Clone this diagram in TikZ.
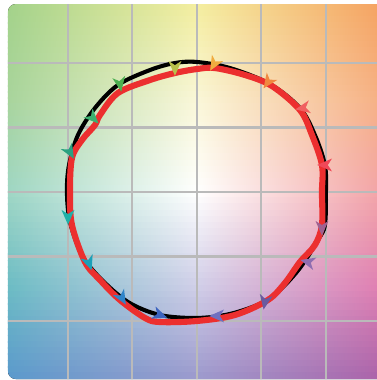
\documentclass[tikz,border=0pt]{standalone}
\usepackage{tikz}

% Colores del fondo (izquierda, centro, derecha; de arriba a abajo)
\definecolor{bgL0}{HTML}{A3D28A}
\definecolor{bgL1}{HTML}{A8D49C}
\definecolor{bgL2}{HTML}{9ED6C4}
\definecolor{bgL3}{HTML}{6CBCC4}
\definecolor{bgL4}{HTML}{5A98CC}
\definecolor{bgM0}{HTML}{F4EEA0}
\definecolor{bgM1}{HTML}{FAF7D8}
\definecolor{bgM2}{HTML}{FFFFFF}
\definecolor{bgM3}{HTML}{D0CEE8}
\definecolor{bgM4}{HTML}{9A98CC}
\definecolor{bgR0}{HTML}{F5A060}
\definecolor{bgR1}{HTML}{F6AE82}
\definecolor{bgR2}{HTML}{F2A0A4}
\definecolor{bgR3}{HTML}{E07CB0}
\definecolor{bgR4}{HTML}{AA60A8}
\definecolor{fitred}{HTML}{EC2F2F}

\begin{document}
\begin{tikzpicture}[
  gridline/.style={draw=black!27, line width=0.9pt},
  pathblack/.style={draw=black, line width=1.8pt, line join=round},
  pathred/.style={draw=fitred, line width=2.7pt, line join=round},
  tipmark/.pic={\fill (0.12,0) -- (-0.11,0.1) -- (-0.045,0) -- (-0.11,-0.1) -- cycle;}
]
  \useasboundingbox (-3.054,-2.915) rectangle (2.791,2.977);

  % Fondo a*b* y rejilla
  \begin{scope}
    \clip[rounded corners=0.12cm] (-2.93,-2.9) rectangle (3.3,2.915);
    \foreach \sg [evaluate=\sg as \nxt using int(\sg+1)] in {0,...,3}{
      \foreach \k [evaluate=\k as \pc using int(100-\k*100/15)] in {0,...,14}{
        \colorlet{bgl}{bgL\sg!\pc!bgL\nxt}
        \colorlet{bgm}{bgM\sg!\pc!bgM\nxt}
        \colorlet{bgr}{bgR\sg!\pc!bgR\nxt}
        \fill[left color=bgl, right color=bgr, middle color=bgm]
          (-2.93,{2.915-(\sg*15+\k)*0.0969}) rectangle (2.93,{2.915-(\sg*15+\k+1)*0.0969-0.012});
      }
    }
    \foreach \g in {-2,...,2}{
      \draw[gridline] (\g,-3) -- (\g,3);
      \draw[gridline] (-3,\g) -- (3,\g);
    }
  \end{scope}

  % Curva de referencia
  \draw[pathblack] plot[smooth cycle, tension=0.55] coordinates {
    (0,2.016) (0.512,1.922) (1.132,1.674) (1.597,1.302) (1.829,0.884)
    (1.984,0.419) (2.0,0) (1.984,-0.512) (1.876,-0.744) (1.597,-1.178)
    (1.287,-1.519) (1.008,-1.721) (0.512,-1.891) (0,-1.953) (-0.574,-1.907)
    (-1.070,-1.705) (-1.504,-1.333) (-1.783,-0.977) (-1.969,-0.465) (-2.016,0)
    (-1.984,0.419) (-1.845,0.884) (-1.581,1.302) (-1.225,1.659) (-0.729,1.891)
    (-0.341,2.0)};

  % Curva ajustada
  \draw[pathred] plot[smooth cycle, tension=0.55] coordinates {
    (0,1.907) (0.279,1.922) (0.744,1.814) (1.163,1.643) (1.597,1.271)
    (1.783,0.884) (1.938,0.419) (1.938,0) (1.938,-0.512) (1.829,-0.822)
    (1.597,-1.085) (1.364,-1.411) (1.101,-1.674) (0.589,-1.907) (0,-2.0)
    (-0.574,-2.016) (-0.806,-1.953) (-1.194,-1.674) (-1.504,-1.364) (-1.736,-1.085)
    (-1.938,-0.512) (-1.969,0) (-1.938,0.527) (-1.783,0.806) (-1.581,1.039)
    (-1.504,1.194) (-1.225,1.535) (-0.729,1.736) (-0.341,1.845)};

  % Flechas de color
  \foreach \x/\y/\a/\c in {
      -0.341/1.922/-90/B8C04A, 0.264/1.984/-120/F0AC40, 1.101/1.705/-125/F08840,
      1.643/1.302/-170/F06060, 1.984/0.419/180/F04858, 1.938/-0.558/-90/A06090,
      1.721/-1.085/165/8F6EB0, 1.054/-1.705/-100/6A5AA0, 0.310/-1.922/180/7070C0,
      -0.574/-1.907/-20/3C64C0, -1.163/-1.643/-60/2F84C8, -1.674/-1.101/-70/1AA0B8,
      -2.0/-0.388/-90/20B0A8, -1.969/0.620/-60/2AA080, -1.612/1.147/-45/3CB070,
      -1.194/1.674/-80/4CB050}{
    \definecolor{tipc}{HTML}{\c}
    \pic[fill=tipc, rotate=\a] at (\x,\y) {tipmark};
  }
\end{tikzpicture}
\end{document}
